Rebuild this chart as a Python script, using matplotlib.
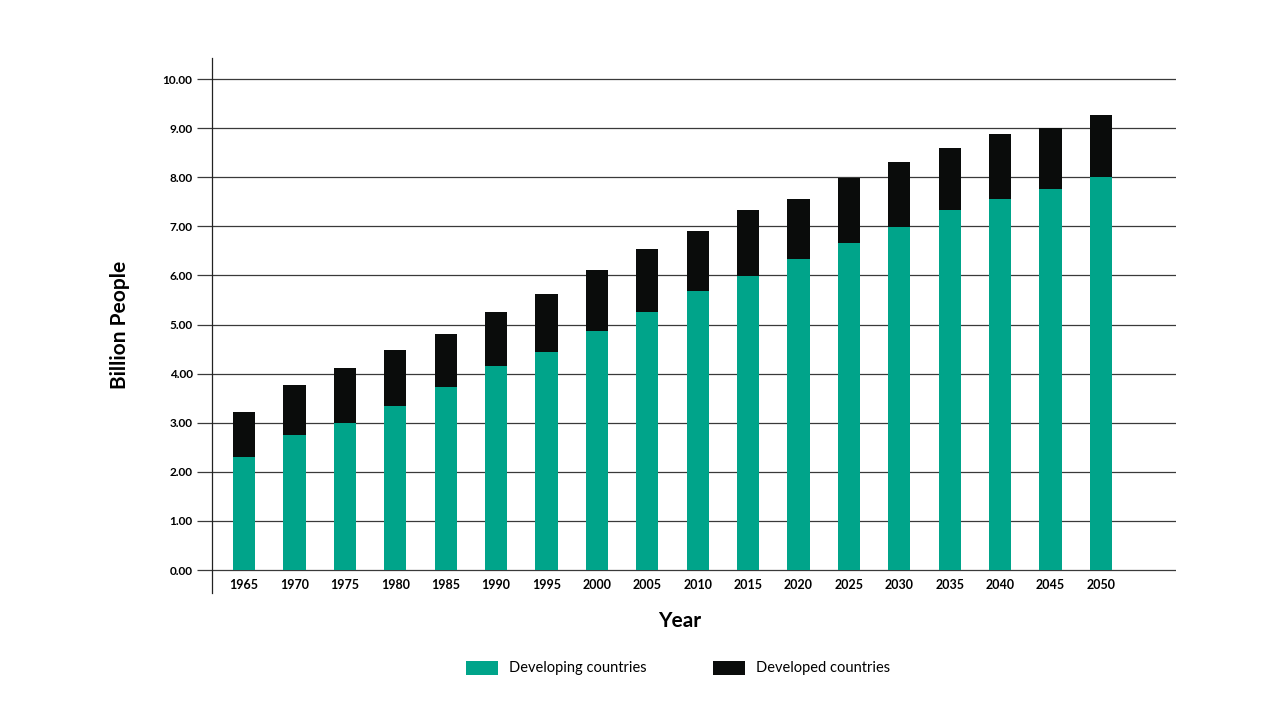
import matplotlib.pyplot as plt

plt.rcParams['font.family'] = ['Lato', 'DejaVu Sans']

years = ['1965', '1970', '1975', '1980', '1985', '1990', '1995', '2000', '2005',
         '2010', '2015', '2020', '2025', '2030', '2035', '2040', '2045', '2050']
developing = [2.30, 2.75, 2.99, 3.34, 3.73, 4.15, 4.44, 4.87, 5.25,
              5.68, 5.99, 6.33, 6.66, 6.99, 7.33, 7.56, 7.76, 8.00]
total = [3.22, 3.77, 4.11, 4.48, 4.81, 5.25, 5.62, 6.11, 6.54,
         6.90, 7.33, 7.56, 7.98, 8.31, 8.59, 8.88, 9.00, 9.27]
developed = [t - d for t, d in zip(total, developing)]
yticks = [0, 1, 2, 3, 4, 5, 6, 7, 8, 9, 10]

green = '#00A48A'
black = '#0A0C0B'

fig = plt.figure(figsize=(12.81, 7.21), dpi=100)
ax = fig.add_axes([212 / 1281, 1 - 593 / 721, (1176 - 212) / 1281, (593 - 58) / 721])

x = list(range(len(years)))
for v in yticks:
    ax.axhline(v, color='#3a3a3a', linewidth=0.9, zorder=1)
ax.bar(x, developing, width=0.44, color=green, label='Developing countries', zorder=2)
ax.bar(x, developed, bottom=developing, width=0.44, color=black,
       label='Developed countries', zorder=2)

ax.set_xlim(-0.635, 18.49)
ax.set_ylim(-0.468, 10.43)
ax.set_yticks(yticks)
ax.set_yticklabels([f'{v:.2f}' for v in yticks], fontsize=8.5, fontweight='bold')
ax.tick_params(axis='y', length=11, width=0.9, color='#3a3a3a', pad=3)
ax.set_xticks(x)
ax.set_xticklabels(years, fontsize=9, fontweight='bold')
ax.tick_params(axis='x', length=0)
ax.xaxis.set_tick_params(pad=-10)

for side in ['top', 'right', 'bottom']:
    ax.spines[side].set_visible(False)
ax.spines['left'].set_linewidth(0.9)
ax.spines['left'].set_color('#222222')

fig.text(120 / 1281, 1 - 325 / 721, 'Billion People', rotation=90, fontsize=15,
         fontweight='bold', ha='center', va='center')
fig.text(680 / 1281, 1 - 621 / 721, 'Year', fontsize=15, fontweight='bold',
         ha='center', va='center')

fig.legend(loc='center', bbox_to_anchor=(678 / 1281, 1 - 668 / 721), ncol=2,
           frameon=False, fontsize=10.5, handlelength=2.2, handleheight=1.1,
           columnspacing=4.5, handletextpad=0.8)

fig.savefig('out.png', dpi=100)
